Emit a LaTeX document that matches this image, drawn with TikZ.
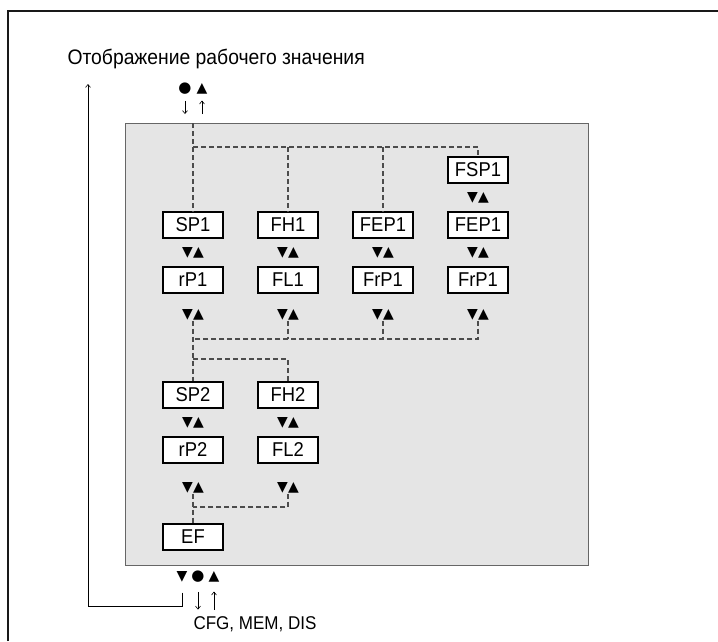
\documentclass[tikz,border=0pt]{standalone}
\usepackage{fontspec}
\setmainfont{Liberation Sans}[FakeStretch=0.92]
\newfontfamily\symfont{DejaVu Sans}
\usetikzlibrary{arrows.meta,positioning}
\tikzstyle{parBox} = [rectangle, minimum width=60pt, minimum height=26pt, inner sep=0pt, text centered, draw=black, line width=1.3pt, fill=white, font=\fontsize{20}{20}\selectfont]
\tikzstyle{navSym} = [inner sep=0pt, font=\symfont\fontsize{14}{14}\selectfont]
\tikzstyle{panel} = [rectangle, draw=black!60, line width=1.4pt, fill=black!10, inner sep=0pt]
\tikzstyle{dashG} = [dash pattern=on 5pt off 3pt, draw=black!70, line width=1.2pt]
\tikzstyle{arrowT} = [->, >={Straight Barb[length=3pt,width=5pt]}, line width=0.6pt]
\tikzstyle{frameLine} = [line width=2pt, draw=black!90]

\begin{document}
\begin{tikzpicture}[x=1pt, y=1pt, node distance=55pt and 95pt, on grid]
\useasboundingbox (0,0) rectangle (718,-641);
\draw[frameLine] (8,-641) |- (718,-11);

\node (title) [anchor=base west, font=\fontsize{21}{21}\selectfont] at (64,-64) {Отображение рабочего значения};
\node (panel) [panel, minimum width=463pt, minimum height=442pt, anchor=north west] at (125,-123) {};

% first setpoint
\node (sp1) [parBox] at (193,-225) {SP1};
\node (fh1) [parBox, right=of sp1] {FH1};
\node (fep1) [parBox, right=of fh1] {FEP1};
\node (fepb) [parBox, right=of fep1] {FEP1};
\node (fsp1) [parBox, above=of fepb] {FSP1};
\node (rp1) [parBox, below=of sp1] {rP1};
\node (fl1) [parBox, below=of fh1] {FL1};
\node (frp1) [parBox, below=of fep1] {FrP1};
\node (frpb) [parBox, below=of fepb] {FrP1};

\node (udFsp) [navSym, below=28pt of fsp1] {▼▲};
\node (udSp) [navSym, below=28pt of sp1] {▼▲};
\node (udFh) [navSym, below=28pt of fh1] {▼▲};
\node (udFep) [navSym, below=28pt of fep1] {▼▲};
\node (udFepb) [navSym, below=28pt of fepb] {▼▲};
\node (udRp) [navSym, below=35pt of rp1] {▼▲};
\node (udFl) [navSym, below=35pt of fl1] {▼▲};
\node (udFrp) [navSym, below=35pt of frp1] {▼▲};
\node (udFrpb) [navSym, below=35pt of frpb] {▼▲};

% second setpoint
\node (sp2) [parBox] at (193,-395) {SP2};
\node (fh2) [parBox, right=of sp2] {FH2};
\node (rp2) [parBox, below=of sp2] {rP2};
\node (fl2) [parBox, below=of fh2] {FL2};
\node (udSp2) [navSym, below=28pt of sp2] {▼▲};
\node (udFh2) [navSym, below=28pt of fh2] {▼▲};
\node (udRp2) [navSym, below=38pt of rp2] {▼▲};
\node (udFl2) [navSym, below=38pt of fl2] {▼▲};
\node (ef) [parBox] at (193,-537) {EF};

% dashed branches
\coordinate (hTop) at (0,-147);
\coordinate (hMid) at (0,-339);
\coordinate (hSub) at (0,-359);
\coordinate (hBot) at (0,-507);
\draw[dashG] (panel.north -| sp1) -- (sp1.north);
\draw[dashG] (sp1 |- hTop) -| (fsp1.north);
\draw[dashG] (fh1 |- hTop) -- (fh1.north);
\draw[dashG] (fep1 |- hTop) -- (fep1.north);
\draw[dashG] (udRp.south) -- (sp2.north);
\draw[dashG] (udFrpb.south) |- (sp1 |- hMid);
\draw[dashG] (udFl.south) -- (fl1 |- hMid);
\draw[dashG] (udFrp.south) -- (frp1 |- hMid);
\draw[dashG] (sp1 |- hSub) -| (fh2.north);
\draw[dashG] (udRp2.south) -- (ef.north);
\draw[dashG] (udFl2.south) |- (sp2 |- hBot);

% buttons on top
\node (dotT) [navSym, font=\symfont\fontsize{15}{15}\selectfont] at (185,-89) {●};
\node (triT) [navSym] at (202,-89) {▲};
\draw[arrowT, shorten <=6pt, shorten >=9pt] (dotT) -- (dotT |- panel.north);
\draw[arrowT, shorten <=9pt, shorten >=6pt] (triT |- panel.north) -- (triT);

% buttons at bottom
\node (dnB) [navSym] at (182,-577) {▼};
\node (dotB) [navSym, font=\symfont\fontsize{15}{15}\selectfont] at (198,-577) {●};
\node (triB) [navSym] at (214,-577) {▲};
\node (cfg) [anchor=base west, font=\fontsize{18.5}{18.5}\selectfont] at (190,-629) {CFG, MEM, DIS};
\draw[arrowT, shorten <=9pt, shorten >=3pt] (dotB) -- (dotB |- cfg.north);
\draw[arrowT, shorten <=3pt, shorten >=9pt] (triB |- cfg.north) -- (triB);

% back to process value
\coordinate (retCorner) at (88,-606);
\coordinate (retEnd) at (88,-84);
\draw[arrowT] ([yshift=-10pt]dnB.south) |- (retCorner) -- (retEnd);
\end{tikzpicture}
\end{document}
